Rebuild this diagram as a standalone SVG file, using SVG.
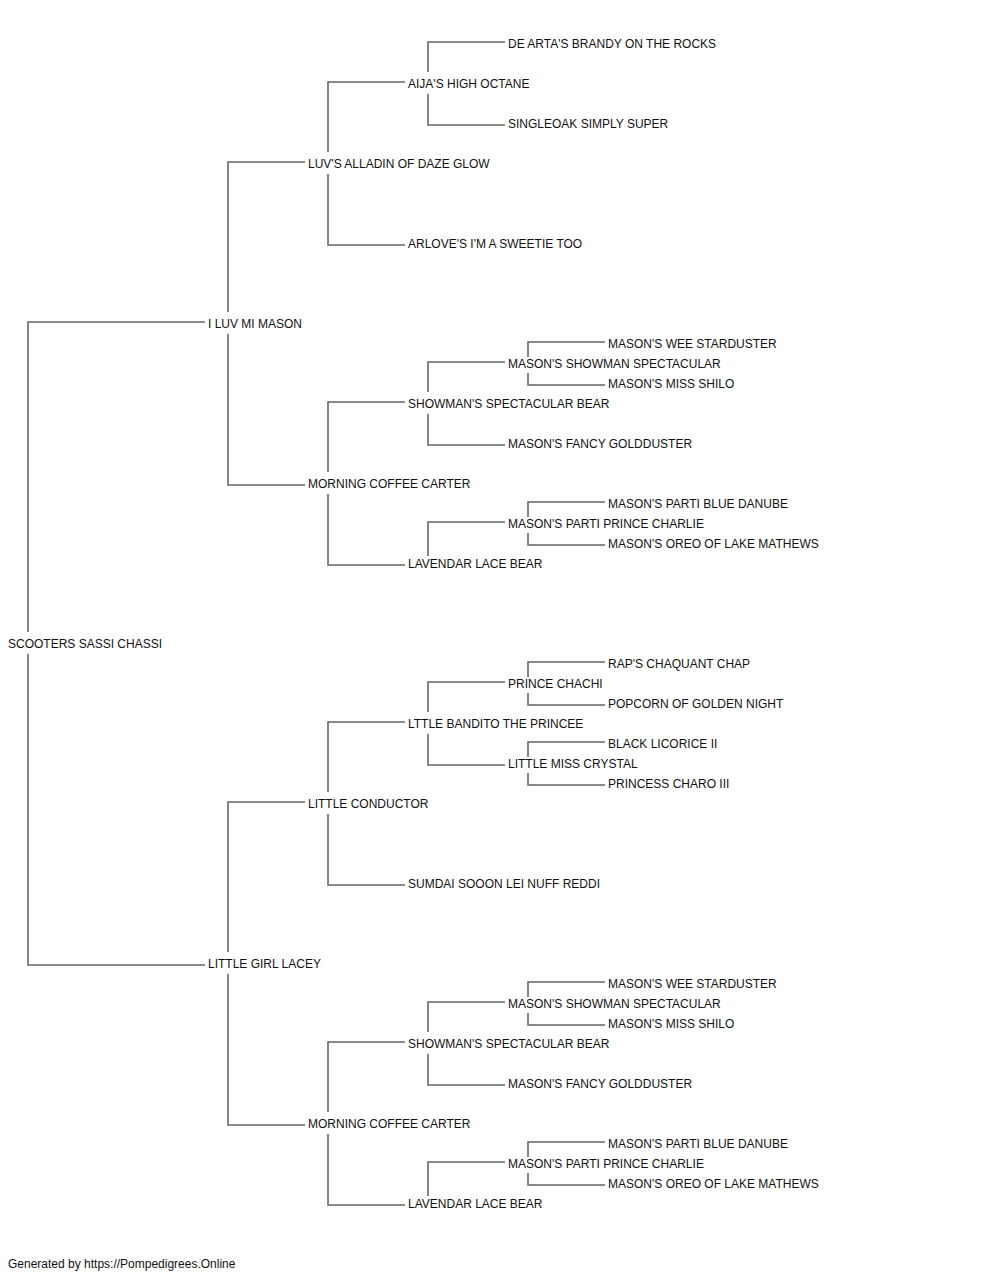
<svg xmlns="http://www.w3.org/2000/svg" width="1000" height="1280" viewBox="0 0 1000 1280">
<style>
text{font-family:"Liberation Sans",Arial,sans-serif;font-size:12px;fill:#111}
.c path{fill:none;stroke:#666;stroke-width:1.6}
</style>
<rect width="1000" height="1280" fill="#fff"/>
<g class="c" id="connectors">
<path d="M28,632V322H205"/><path d="M28,654V965H205"/>
<path d="M228,312V162H305"/><path d="M228,334V485H305"/>
<path d="M228,952V802H305"/><path d="M228,974V1125H305"/>
<path d="M328,152V82H405"/><path d="M328,174V245H405"/>
<path d="M328,472V402H405"/><path d="M328,494V565H405"/>
<path d="M328,792V722H405"/><path d="M328,814V885H405"/>
<path d="M328,1112V1042H405"/><path d="M328,1134V1205H405"/>
<path d="M428,72V42H505"/><path d="M428,94V125H505"/>
<path d="M428,392V362H505"/><path d="M428,414V445H505"/>
<path d="M428,556V522H505"/>
<path d="M428,712V682H505"/><path d="M428,734V765H505"/>
<path d="M428,1032V1002H505"/><path d="M428,1054V1085H505"/>
<path d="M428,1196V1162H505"/>
<path d="M528,357V342H605"/><path d="M528,373V385H605"/>
<path d="M528,517V502H605"/><path d="M528,533V545H605"/>
<path d="M528,677V662H605"/><path d="M528,693V705H605"/>
<path d="M528,757V742H605"/><path d="M528,773V785H605"/>
<path d="M528,997V982H605"/><path d="M528,1013V1025H605"/>
<path d="M528,1157V1142H605"/><path d="M528,1173V1185H605"/>
</g>
<g id="n0"><text x="8" y="648">SCOOTERS SASSI CHASSI</text></g>
<g id="n1"><text x="208" y="328">I LUV MI MASON</text></g>
<g id="n2"><text x="208" y="968">LITTLE GIRL LACEY</text></g>
<g id="n3"><text x="308" y="168">LUV'S ALLADIN OF DAZE GLOW</text></g>
<g id="n4"><text x="308" y="488">MORNING COFFEE CARTER</text></g>
<g id="n5"><text x="308" y="808">LITTLE CONDUCTOR</text></g>
<g id="n6"><text x="308" y="1128">MORNING COFFEE CARTER</text></g>
<g id="n7"><text x="408" y="88">AIJA'S HIGH OCTANE</text></g>
<g id="n8"><text x="408" y="248">ARLOVE'S I'M A SWEETIE TOO</text></g>
<g id="n9"><text x="408" y="408">SHOWMAN'S SPECTACULAR BEAR</text></g>
<g id="n10"><text x="408" y="568">LAVENDAR LACE BEAR</text></g>
<g id="n11"><text x="408" y="728">LTTLE BANDITO THE PRINCEE</text></g>
<g id="n12"><text x="408" y="888">SUMDAI SOOON LEI NUFF REDDI</text></g>
<g id="n13"><text x="408" y="1048">SHOWMAN'S SPECTACULAR BEAR</text></g>
<g id="n14"><text x="408" y="1208">LAVENDAR LACE BEAR</text></g>
<g id="n15"><text x="508" y="48">DE ARTA'S BRANDY ON THE ROCKS</text></g>
<g id="n16"><text x="508" y="128">SINGLEOAK SIMPLY SUPER</text></g>
<g id="n17"><text x="508" y="368">MASON'S SHOWMAN SPECTACULAR</text></g>
<g id="n18"><text x="508" y="448">MASON'S FANCY GOLDDUSTER</text></g>
<g id="n19"><text x="508" y="528">MASON'S PARTI PRINCE CHARLIE</text></g>
<g id="n20"><text x="508" y="688">PRINCE CHACHI</text></g>
<g id="n21"><text x="508" y="768">LITTLE MISS CRYSTAL</text></g>
<g id="n22"><text x="508" y="1008">MASON'S SHOWMAN SPECTACULAR</text></g>
<g id="n23"><text x="508" y="1088">MASON'S FANCY GOLDDUSTER</text></g>
<g id="n24"><text x="508" y="1168">MASON'S PARTI PRINCE CHARLIE</text></g>
<g id="n25"><text x="608" y="348">MASON'S WEE STARDUSTER</text></g>
<g id="n26"><text x="608" y="388">MASON'S MISS SHILO</text></g>
<g id="n27"><text x="608" y="508">MASON'S PARTI BLUE DANUBE</text></g>
<g id="n28"><text x="608" y="548">MASON'S OREO OF LAKE MATHEWS</text></g>
<g id="n29"><text x="608" y="668">RAP'S CHAQUANT CHAP</text></g>
<g id="n30"><text x="608" y="708">POPCORN OF GOLDEN NIGHT</text></g>
<g id="n31"><text x="608" y="748">BLACK LICORICE II</text></g>
<g id="n32"><text x="608" y="788">PRINCESS CHARO III</text></g>
<g id="n33"><text x="608" y="988">MASON'S WEE STARDUSTER</text></g>
<g id="n34"><text x="608" y="1028">MASON'S MISS SHILO</text></g>
<g id="n35"><text x="608" y="1148">MASON'S PARTI BLUE DANUBE</text></g>
<g id="n36"><text x="608" y="1188">MASON'S OREO OF LAKE MATHEWS</text></g>
<text x="8" y="1268">Generated by https://Pompedigrees.Online</text>
</svg>
